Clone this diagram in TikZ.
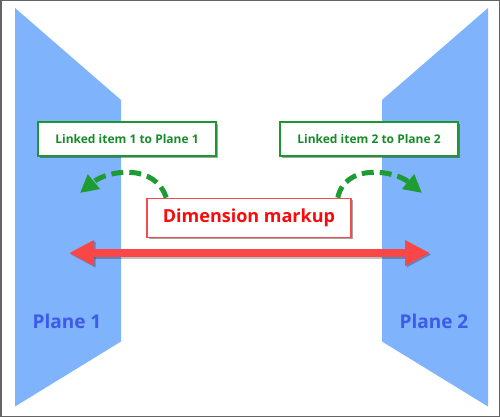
\documentclass[tikz,border=0pt]{standalone}
\usepackage{fontspec}
\setmainfont{Open Sans}
\usetikzlibrary{arrows.meta,shadows}
\definecolor{planeblue}{RGB}{127,179,251}
\definecolor{labelblue}{RGB}{61,90,235}
\definecolor{linkgreen}{RGB}{30,150,50}
\definecolor{linktext}{RGB}{22,140,40}
\definecolor{arcgreen}{RGB}{30,155,50}
\definecolor{dimtext}{RGB}{250,10,10}
\definecolor{dimborder}{RGB}{245,75,75}
\definecolor{arrowred}{RGB}{250,70,70}
\definecolor{framegray}{RGB}{100,100,100}
\begin{document}
\begin{tikzpicture}[x=1pt,y=-1pt,
  planefill/.style={fill=planeblue, draw=none},
  planelabel/.style={text=labelblue, font=\bfseries\fontsize{19}{22}\selectfont, inner sep=0pt},
  softshadow/.style={drop shadow={shadow xshift=1.5pt, shadow yshift=-1.5pt, opacity=0.35, fill=black}},
  linkbox/.style={draw=linkgreen, line width=2pt, fill=white, text=linktext,
    font=\bfseries\fontsize{12}{14}\selectfont, minimum width=178pt, minimum height=34pt,
    inner sep=0pt, softshadow},
  dimbox/.style={draw=dimborder, line width=1.6pt, fill=white, text=dimtext,
    font=\bfseries\fontsize{18}{21}\selectfont, minimum width=204pt, minimum height=39pt,
    inner sep=0pt, softshadow},
  linkarc/.style={draw=arcgreen, line width=5pt, dash pattern=on 12pt off 6pt,
    -{Triangle[length=18pt,width=18pt]}},
  dimarrow/.style={line width=8pt, {Triangle[length=25pt,width=24pt]}-{Triangle[length=25pt,width=24pt]}},
]
\useasboundingbox (0,0) rectangle (500,417);
\draw[framegray, line width=1.5pt] (0.75,0.75) rectangle (499.25,416.25);

% planes
\fill[planefill] (15,8) -- (121,100) -- (121,341.5) -- (15,406.5) -- cycle;
\fill[planefill] (488,8) -- (382,100) -- (382,341.5) -- (488,406.5) -- cycle;
\node[planelabel] (p1lab) at (67,321) {Plane 1};
\node[planelabel] (p2lab) at (434,321) {Plane 2};

% dimension arrow
\coordinate (dl) at (69,253);
\coordinate (dr) at (430,253);
\draw[dimarrow, black, opacity=0.25, transform canvas={xshift=1.5pt,yshift=-1.5pt}] (dl) -- (dr);
\draw[dimarrow, arrowred] (dl) -- (dr);

% boxes and links
\node[dimbox] (dim) at (249,218) {Dimension markup};
\coordinate (tip1) at (80,193);
\coordinate (tip2) at (422,193);
\draw[linkarc] ([xshift=20pt]dim.north west) .. controls (155,163) and (108,170) .. (tip1);
\draw[linkarc] ([xshift=-14pt]dim.north east) .. controls (345,163) and (394,170) .. (tip2);
\node[linkbox] (link1) at (127,139) {Linked item 1 to Plane 1};
\node[linkbox] (link2) at (369,139) {Linked item 2 to Plane 2};
\end{tikzpicture}
\end{document}
